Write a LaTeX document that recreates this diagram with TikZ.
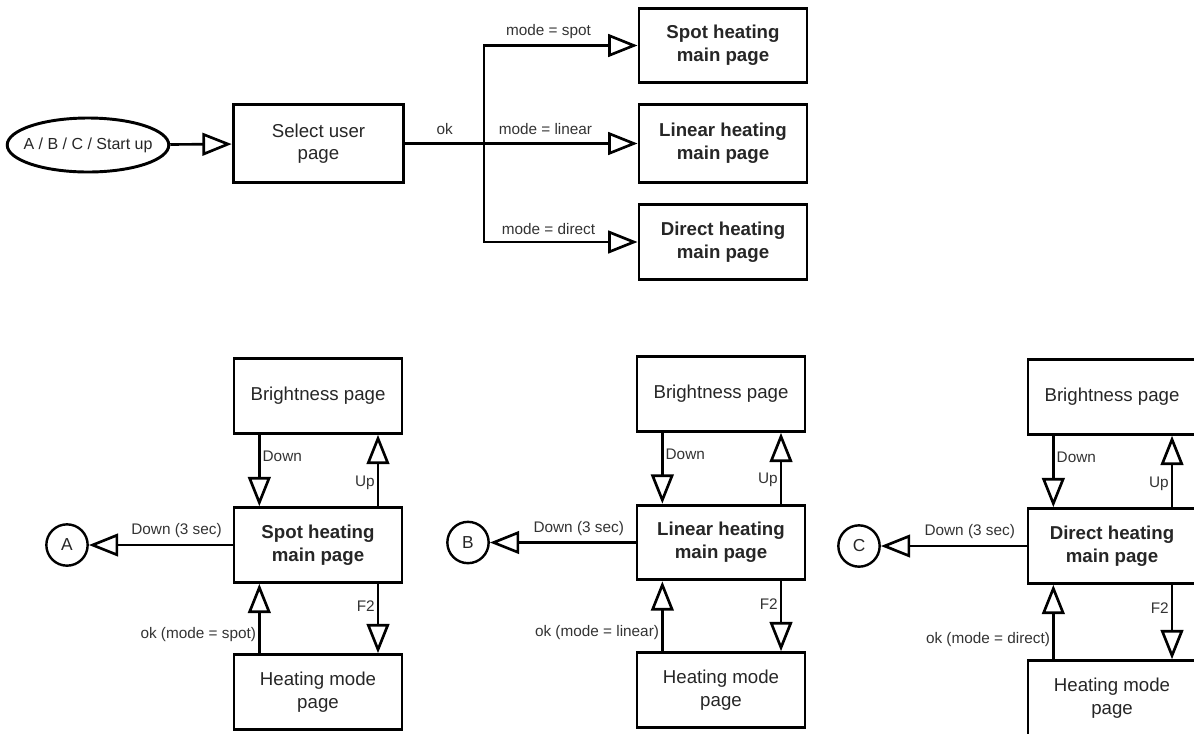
\documentclass[tikz,border=0pt]{standalone}
\usepackage{fontspec}
\setmainfont{Liberation Sans}
\usetikzlibrary{arrows.meta,shapes.geometric}
\begin{document}
\begin{tikzpicture}[x=0.75pt,y=-0.75pt,
  box/.style={draw, line width=2.2pt, minimum width=126pt, minimum height=56pt, align=center, font=\fontsize{14}{17}\selectfont, inner sep=2pt, text=black!85},
  bbox/.style={box, font=\fontsize{14}{17}\selectfont\bfseries},
  lbl/.style={font=\fontsize{11.5}{13}\selectfont, inner sep=1.5pt, text=black!80},
  conn/.style={line width=2pt},
  arr/.style={conn, -{Triangle[open, length=22pt, width=17pt, line width=2pt]}},
  circ/.style={draw, circle, line width=1.8pt, minimum size=31pt, inner sep=0pt, font=\fontsize{13}{15}\selectfont, text=black!85}
]
\useasboundingbox (0,0) rectangle (1194,733);

% ---------- top part ----------
\node[draw, ellipse, line width=2.2pt, minimum height=40.5pt, inner xsep=-5.5pt, inner ysep=0pt,
      font=\fontsize{12}{14}\selectfont, text=black!85] (start) at (88,145) {A / B / C / Start up};
\node[box, minimum width=128pt, minimum height=58pt] (sel) at (318.5,143.5) {Select user\\page};
\node[bbox] (spot) at (723,45.5) {Spot heating\\main page};
\node[bbox, minimum height=58pt] (lin) at (723,143.5) {Linear heating\\main page};
\node[bbox] (dir) at (723,242) {Direct heating\\main page};
\coordinate (br) at (484,143.5);

\draw[arr] (start) -- (sel);
\draw[conn] (sel.east) -- (br) node[lbl, midway, above=4pt] {ok};
\draw[arr] (br) |- (spot.west) node[lbl, pos=0.71, above=2.5pt] {mode = spot};
\draw[arr] (br) -- (lin.west) node[lbl, pos=0.4, above=4pt] {mode = linear};
\draw[arr] (br) |- (dir.west) node[lbl, pos=0.71, above=3pt] {mode = direct};

% ---------- group A ----------
\node[box] (brA) at (318,396) {Brightness page};
\node[bbox] (mainA) at (318,545) {Spot heating\\main page};
\node[box] (hmA) at (318,692) {Heating mode\\page};
\node[circ] (cA) at (67,545) {A};
\draw[arr] ([xshift=-44pt]brA.south) -- ([xshift=-44pt]mainA.north) node[lbl, pos=0.3, right] {Down};
\draw[arr] ([xshift=45pt]mainA.north) -- ([xshift=45pt]brA.south) node[lbl, pos=0.33, left] {Up};
\draw[arr] (mainA.west) -- (cA) node[lbl, pos=0.39, above=3pt] {Down (3 sec)};
\draw[arr] ([xshift=-44pt]hmA.north) -- ([xshift=-44pt]mainA.south) node[lbl, pos=0.27, left] {ok (mode = spot)};
\draw[arr] ([xshift=45pt]mainA.south) -- ([xshift=45pt]hmA.north) node[lbl, pos=0.32, left] {F2};

% ---------- group B ----------
\node[box] (brB) at (721,394) {Brightness page};
\node[bbox] (mainB) at (721,542.5) {Linear heating\\main page};
\node[box] (hmB) at (721,690) {Heating mode\\page};
\node[circ] (cB) at (468,542.5) {B};
\draw[arr] ([xshift=-44pt]brB.south) -- ([xshift=-44pt]mainB.north) node[lbl, pos=0.3, right] {Down};
\draw[arr] ([xshift=45pt]mainB.north) -- ([xshift=45pt]brB.south) node[lbl, pos=0.33, left] {Up};
\draw[arr] (mainB.west) -- (cB) node[lbl, pos=0.39, above=3pt] {Down (3 sec)};
\draw[arr] ([xshift=-44pt]hmB.north) -- ([xshift=-44pt]mainB.south) node[lbl, pos=0.27, left] {ok (mode = linear)};
\draw[arr] ([xshift=45pt]mainB.south) -- ([xshift=45pt]hmB.north) node[lbl, pos=0.32, left] {F2};

% ---------- group C ----------
\node[box] (brC) at (1112,397) {Brightness page};
\node[bbox] (mainC) at (1112,546) {Direct heating\\main page};
\node[box] (hmC) at (1112,698) {Heating mode\\page};
\node[circ] (cC) at (859,546) {C};
\draw[arr] ([xshift=-44pt]brC.south) -- ([xshift=-44pt]mainC.north) node[lbl, pos=0.3, right] {Down};
\draw[arr] ([xshift=45pt]mainC.north) -- ([xshift=45pt]brC.south) node[lbl, pos=0.33, left] {Up};
\draw[arr] (mainC.west) -- (cC) node[lbl, pos=0.39, above=3pt] {Down (3 sec)};
\draw[arr] ([xshift=-44pt]hmC.north) -- ([xshift=-44pt]mainC.south) node[lbl, pos=0.27, left] {ok (mode = direct)};
\draw[arr] ([xshift=45pt]mainC.south) -- ([xshift=45pt]hmC.north) node[lbl, pos=0.32, left] {F2};
\end{tikzpicture}
\end{document}
